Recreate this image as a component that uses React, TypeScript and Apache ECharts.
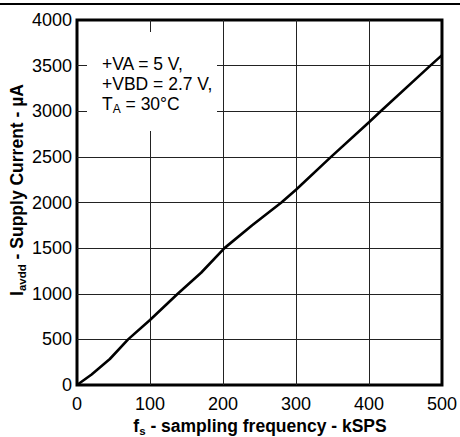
import React, { useEffect, useRef } from "react";
import * as echarts from "echarts";

const freqKSPS = [0, 20, 45, 70, 100, 138, 170, 202, 240, 280, 300, 348, 400, 416, 484, 500];
const currentUA = [0, 115, 285, 500, 712, 1000, 1230, 1500, 1750, 2000, 2140, 2500, 2880, 3000, 3500, 3615];
const xTicks = { min: 0, max: 500, interval: 100 };
const yTicks = { min: 0, max: 4000, interval: 500 };
const conditionLines = ["+VA = 5 V,", "+VBD = 2.7 V,", "T{sub|A} = 30°C"];
const xTitle = "f{sub|s} - sampling frequency - kSPS";
const yTitle = "I{sub|avdd} - Supply Current - µA";

const FONT = "'Liberation Sans', Arial, Helvetica, sans-serif";

export default function App() {
  const ref = useRef<HTMLDivElement>(null);
  useEffect(() => {
    if (!ref.current) return;
    const chart = echarts.init(ref.current, undefined, { renderer: "svg" });
    const data = freqKSPS.map((f, i) => [f, currentUA[i]]);
    const axisLabel = { color: "#000", fontSize: 18, fontFamily: FONT, formatter: (v: number) => String(v) };
    const splitLine = {
      show: true,
      showMinLine: false,
      showMaxLine: false,
      lineStyle: { color: "#222", width: 1 },
    };
    const titleStyle = {
      fill: "#000",
      fontSize: 17.5,
      fontWeight: "bold",
      fontFamily: FONT,
      align: "center",
      verticalAlign: "middle",
      lineHeight: 22,
      rich: {
        sub: { fontSize: 11.5, lineHeight: 11, verticalAlign: "bottom", fontWeight: "bold", fontFamily: FONT, fill: "#000" },
      },
    };
    chart.setOption({
      animation: false,
      backgroundColor: "#fff",
      grid: {
        left: 77,
        top: 20,
        width: 366,
        height: 365,
        show: true,
        borderColor: "#000",
        borderWidth: 3,
        backgroundColor: "transparent",
      },
      xAxis: {
        type: "value",
        ...xTicks,
        axisLine: { show: false },
        axisTick: { show: false },
        axisLabel: { ...axisLabel, margin: 10 },
        splitLine,
      },
      yAxis: {
        type: "value",
        ...yTicks,
        axisLine: { show: false },
        axisTick: { show: false },
        axisLabel: { ...axisLabel, margin: 5 },
        splitLine,
      },
      series: [
        {
          type: "line",
          data,
          showSymbol: false,
          symbol: "none",
          lineStyle: { color: "#000", width: 2.6 },
          z: 5,
        },
      ],
      graphic: [
        { type: "rect", shape: { x: 0, y: 3, width: 460, height: 2 }, style: { fill: "#000" }, z: 100 },
        { type: "rect", shape: { x: 87, y: 32, width: 130, height: 99 }, style: { fill: "#fff" }, z: 100 },
        ...conditionLines.map((t, i) => ({
          type: "text",
          x: 102,
          y: 64 + i * 20,
          z: 101,
          style: {
            text: t,
            fill: "#000",
            fontSize: 17.5,
            fontFamily: FONT,
            align: "left",
            verticalAlign: "middle",
            lineHeight: 22,
            rich: {
              sub: { fontSize: 12, lineHeight: 12, verticalAlign: "bottom", fontFamily: FONT, fill: "#000" },
            },
          },
        })),
        { type: "text", x: 260, y: 426, z: 101, style: { ...titleStyle, text: xTitle } },
        { type: "text", x: 17, y: 190, rotation: Math.PI / 2, z: 101, style: { ...titleStyle, text: yTitle } },
      ],
    });
    return () => chart.dispose();
  }, []);
  return (
    <div
      ref={ref}
      style={{ position: "fixed", left: 0, top: 0, width: 460, height: 437, background: "#fff" }}
    />
  );
}
